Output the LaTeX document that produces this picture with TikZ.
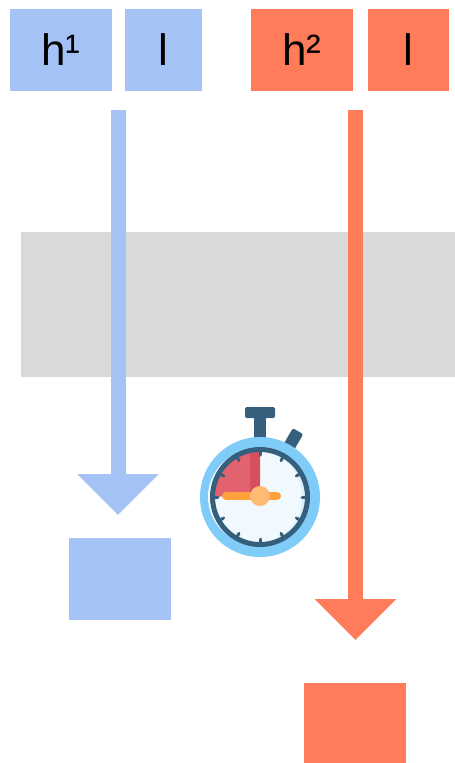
\documentclass[tikz,border=0pt]{standalone}
\usepackage{fontspec}
\setmainfont{Liberation Sans}
\usetikzlibrary{arrows.meta}
\definecolor{paleblue}{HTML}{A4C2F4}
\definecolor{coral}{HTML}{FF7B59}
\definecolor{band}{HTML}{D9D9D9}
\definecolor{watchrim}{HTML}{7FCCF9}
\definecolor{watchface}{HTML}{F1F9FE}
\definecolor{watchshade}{HTML}{DDF1FD}
\definecolor{watchdark}{HTML}{365E7D}
\definecolor{sectorred}{HTML}{E2626F}
\definecolor{sectordark}{HTML}{D64F5C}
\definecolor{handorange}{HTML}{FFA23C}
\definecolor{huborange}{HTML}{FFBB73}
\begin{document}
\begin{tikzpicture}[x=1pt,y=-1pt]
  \tikzstyle{every node}=[inner sep=0pt,text=black,font=\fontsize{44}{44}\selectfont]
  \tikzstyle{blue box}=[fill=paleblue,minimum height=82pt]
  \tikzstyle{coral box}=[fill=coral,minimum height=82pt]
  \tikzstyle{flow}=[line width=15pt,-{Triangle[width=79pt,length=41pt]}]

  \useasboundingbox (0,0) rectangle (455,763);
  \fill[band] (21,232) rectangle (455,377);

  \node[blue box,minimum width=102pt] (hone) at (61,50) {h¹};
  \node[blue box,minimum width=77pt] (lone) at (163.5,50) {l};
  \node[coral box,minimum width=102pt] (htwo) at (302,50) {h²};
  \node[coral box,minimum width=81pt] (ltwo) at (408.5,50) {l};
  \node[blue box,minimum width=102pt] (blueout) at (120,579) {};
  \node[coral box,minimum width=102pt,minimum height=80pt] (coralout) at (355,723) {};

  \coordinate (bluefrom) at (118,110);
  \coordinate (blueto) at (118,515);
  \coordinate (coralfrom) at (355.5,110);
  \coordinate (coralto) at (355.5,640);
  \draw[flow,paleblue] (bluefrom) -- (blueto);
  \draw[flow,coral] (coralfrom) -- (coralto);

  % stopwatch
  \begin{scope}[shift={(260,497)}]
    \fill[watchdark,rounded corners=2pt] (-15,-90) rectangle (15,-79);
    \fill[watchdark] (-6,-80) rectangle (6,-58);
    \fill[watchdark,rotate=-30,rounded corners=1.5pt] (-6,-76) rectangle (6,-55);
    \fill[watchrim] (0,0) circle[radius=60pt];
    \fill[watchshade] (0,0) circle[radius=47pt];
    \fill[watchface] (-5,0) circle[radius=47pt];
    \fill[sectorred] (0,-3) -- (0,-47) arc[start angle=90,end angle=180,radius=47pt] -- cycle;
    \fill[sectordark] (-10,-3) -- (-10,-46) arc[start angle=102,end angle=90,radius=47pt] -- (0,-3) -- cycle;
    \draw[watchdark,line width=5pt] (0,0) circle[radius=47.5pt];
    \foreach \a in {0,30,...,330}
      \draw[watchdark,line width=3pt,line cap=round] (\a:42) -- (\a:47);
    \draw[handorange,line width=8pt,line cap=round] (-34,-1) -- (17,-1);
    \fill[huborange] (0,-1) circle[radius=10pt];
  \end{scope}
\end{tikzpicture}
\end{document}
